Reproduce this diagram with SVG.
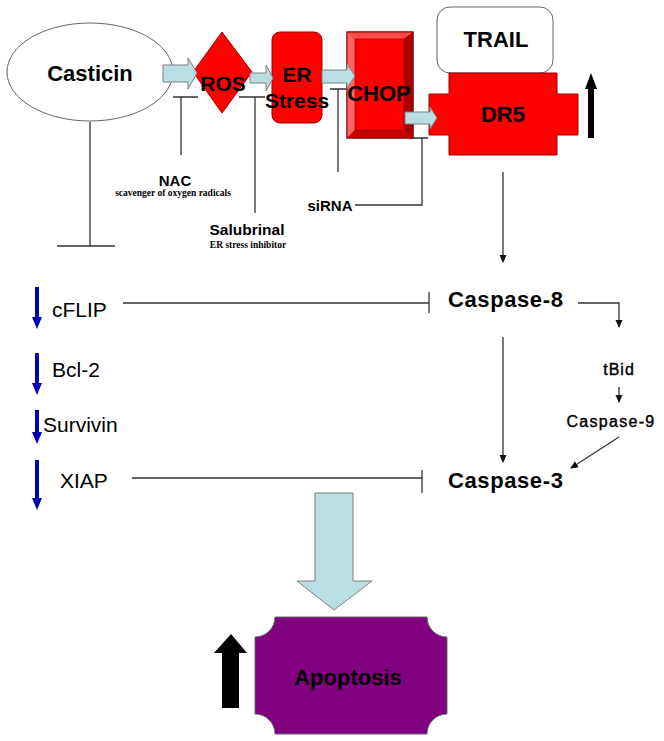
<svg xmlns="http://www.w3.org/2000/svg" width="664" height="741" viewBox="0 0 664 741">
<style>
.t{font-family:"Liberation Sans",Arial,sans-serif;fill:#000}
.b{font-weight:bold}
.m{stroke:#000;stroke-width:0.4}
.s{font-family:"Liberation Serif","Times New Roman",serif;font-weight:bold;font-size:9.5px;fill:#000}
.ln{fill:none;stroke:#333;stroke-width:1.3}
.blk{fill:#b9dfe4;stroke:#808080;stroke-width:1}
.red{fill:#ff0000;stroke:#a00000;stroke-width:1}
.blu{fill:#0000b4}
</style>
<defs>
<marker id="ah" markerWidth="8" markerHeight="8" refX="7" refY="4" orient="auto" markerUnits="userSpaceOnUse">
<path d="M0,0.5 L8,4 L0,7.5 Z" fill="#111"/>
</marker>
</defs>
<rect width="664" height="741" fill="#fff"/>

<g id="connectors">
<path class="ln" d="M90,122 V246 M57,246 H115"/>
<path class="ln" d="M173,97 H198 M181,97 V155"/>
<path class="ln" d="M239,97 H265 M255,97 V213"/>
<path class="ln" d="M330,89 H346 M338,89 V172"/>
<path class="ln" d="M410,138 H428 M422,138 V205 H355"/>
<path class="ln" d="M503,172 V262" marker-end="url(#ah)"/>
<path class="ln" d="M123,303 H429 M429,292 V313"/>
<path class="ln" d="M578,303 H619 V327" marker-end="url(#ah)"/>
<path class="ln" d="M619,387 V402" marker-end="url(#ah)"/>
<path class="ln" d="M503,337 V462" marker-end="url(#ah)"/>
<path class="ln" d="M619,437 L571,468" marker-end="url(#ah)"/>
<path class="ln" d="M132,478 H422 M422,470 V493"/>
</g>

<g id="casticin">
<ellipse cx="90" cy="72" rx="83" ry="49" fill="#fff" stroke="#666" stroke-width="1"/>
<text class="t b" x="90" y="81" font-size="22" text-anchor="middle">Casticin</text>
</g>

<g id="er-stress">
<rect class="red" x="272" y="32" width="50" height="91" rx="8"/>
</g>

<g id="chop">
<rect x="347" y="32" width="66" height="106" fill="#ff0000" stroke="#800000" stroke-width="1"/>
<polygon points="347,32 413,32 404,39 355,39" fill="#ff4a4a"/>
<polygon points="347,32 355,39 355,130 347,138" fill="#ff6464"/>
<polygon points="413,32 404,39 404,130 413,138" fill="#a80000"/>
<polygon points="347,138 355,130 404,130 413,138" fill="#c40000"/>
<rect x="355" y="39" width="49" height="91" fill="#ff0000" stroke="#900000" stroke-width="0.6"/>
<rect x="347" y="32" width="66" height="106" fill="none" stroke="#800000" stroke-width="1"/>
</g>

<g id="trail">
<rect x="437" y="7" width="116" height="66" rx="13" fill="#fff" stroke="#666" stroke-width="1"/>
<text class="t b" x="496" y="47" font-size="22" text-anchor="middle">TRAIL</text>
</g>

<g id="dr5">
<polygon class="red" points="449,73 557,73 557,94 578,94 578,135 557,135 557,155 449,155 449,135 429,135 429,94 449,94"/>
</g>

<g id="ros">
<polygon class="red" points="222,32 252,72 222,113 193,72"/>
</g>

<g id="arrows-flow">
<polygon class="blk" points="163,65 188,65 188,58 197,73 188,89 188,82 163,82"/>
<polygon class="blk" points="250,73 266,73 266,65 273,78 266,91 266,83 250,83"/>
<polygon class="blk" points="322,70 347,70 347,64 355,76 347,88 347,83 322,83"/>
<polygon class="blk" points="405,112 430,112 430,107 437,118 430,129 430,124 405,124"/>
</g>

<g id="labels-top">
<text class="t b" x="223" y="91" font-size="21" text-anchor="middle">ROS</text>
<text class="t b" x="297" y="82" font-size="21" text-anchor="middle">ER</text>
<text class="t b" x="297" y="108" font-size="21" text-anchor="middle">Stress</text>
<text class="t b" x="379" y="101" font-size="22" text-anchor="middle">CHOP</text>
<text class="t b" x="503" y="122" font-size="22" text-anchor="middle">DR5</text>
</g>

<g id="dr5-up">
<polygon points="588,138 594,138 594,89 597,89 591,73 585,89 588,89" fill="#000"/>
</g>

<g id="nac">
<text class="t b" x="175" y="186" font-size="15" text-anchor="middle">NAC</text>
<text class="s" x="173" y="196" text-anchor="middle">scavenger of oxygen radicals</text>
</g>

<g id="salubrinal">
<text class="t b" x="247" y="235" font-size="15.5" text-anchor="middle">Salubrinal</text>
<text class="s" x="248" y="248" text-anchor="middle">ER stress inhibitor</text>
</g>

<g id="sirna">
<text class="t b" x="330" y="211" font-size="15" text-anchor="middle">siRNA</text>
</g>

<g id="caspase-8">
<text class="t b" x="448" y="307" font-size="22" letter-spacing="0.6">Caspase-8</text>
</g>
<g id="tbid">
<text class="t m" x="619" y="375" font-size="16" letter-spacing="1" text-anchor="middle">tBid</text>
</g>
<g id="caspase-9">
<text class="t m" x="611" y="427" font-size="16" letter-spacing="1.3" text-anchor="middle">Caspase-9</text>
</g>
<g id="caspase-3">
<text class="t b" x="448" y="488" font-size="22" letter-spacing="0.6">Caspase-3</text>
</g>

<g id="cflip">
<polygon class="blu" points="35,287 39,287 39,317 42,317 37,329 32,317 35,317"/>
<text class="t" x="52" y="317" font-size="21">cFLIP</text>
</g>
<g id="bcl2">
<polygon class="blu" points="35,353 39,353 39,383 42,383 37,395 32,383 35,383"/>
<text class="t" x="52" y="377" font-size="21">Bcl-2</text>
</g>
<g id="survivin">
<polygon class="blu" points="35,410 39,410 39,432 42,432 37,444 32,432 35,432"/>
<text class="t" x="43" y="432" font-size="21">Survivin</text>
</g>
<g id="xiap">
<polygon class="blu" points="35,460 39,460 39,498 42,498 37,510 32,498 35,498"/>
<text class="t" x="60" y="488" font-size="21">XIAP</text>
</g>

<g id="big-arrow">
<polygon class="blk" points="315,493 353,493 353,581 372,581 334,610 297,581 315,581"/>
</g>

<g id="apoptosis">
<path d="M275,617 H427 A20,20 0 0 0 447,637 V714 A20,20 0 0 0 427,734 H275 A20,20 0 0 0 255,714 V637 A20,20 0 0 0 275,617 Z" fill="#800080" stroke="#666" stroke-width="1"/>
<text class="t b" x="348" y="685" font-size="22" text-anchor="middle" fill="#1a001a">Apoptosis</text>
</g>
<g id="apoptosis-up">
<polygon points="222,708 239,708 239,653 247,653 231,634 214,653 222,653" fill="#000"/>
</g>
</svg>
